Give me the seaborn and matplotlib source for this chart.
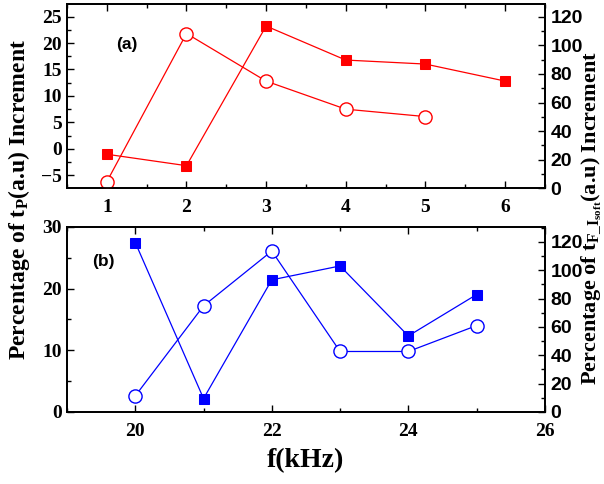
import numpy as np
import pandas as pd
import matplotlib
matplotlib.use("Agg")
from matplotlib import pyplot as plt
from matplotlib.ticker import MultipleLocator
from matplotlib.font_manager import FontProperties
import seaborn as sns

# panel (a)
a_x_circ = [1, 2, 3, 4, 5]
a_tp = [-6.2, 21.8, 12.8, 7.5, 6.1]          # left axis, open circles
a_x_sq = [1, 2, 3, 4, 5, 6]
a_tf = [23.8, 15.8, 113.5, 89.7, 86.9, 75.0]  # right axis, filled squares

# panel (b)
b_f = [20, 21, 22, 23, 24, 25]
b_tp = [2.6, 17.2, 26.1, 9.8, 9.8, 14.0]      # left axis, open circles
b_tf = [119.5, 9.4, 93.2, 103.0, 53.6, 82.8]  # right axis, filled squares

sns.set_style("ticks")
plt.rcParams['font.family'] = ['Liberation Serif', 'DejaVu Serif']
plt.rcParams['font.weight'] = 'bold'
plt.rcParams['text.color'] = 'black'
plt.rcParams['axes.labelcolor'] = 'black'
plt.rcParams['xtick.color'] = 'black'
plt.rcParams['ytick.color'] = 'black'
plt.rcParams['mathtext.fontset'] = 'custom'
plt.rcParams['mathtext.rm'] = 'Liberation Serif:bold'
plt.rcParams['mathtext.bf'] = 'Liberation Serif:bold'
plt.rcParams['mathtext.it'] = 'Liberation Serif:bold'

SERIF = dict(family='Liberation Serif', weight='bold', size=14)
SANS = dict(family='Liberation Sans', weight='bold', size=14)

fig = plt.figure(figsize=(6.04, 4.84), dpi=100)
ax1 = fig.add_axes([0.111, 0.611, 0.791, 0.381])
ax2 = fig.add_axes([0.111, 0.149, 0.791, 0.382])


def style(ax):
    for s in ax.spines.values():
        s.set_linewidth(1.3)
        s.set_color('black')
    ax.tick_params(which='both', direction='in', width=1.0, colors='black')
    ax.tick_params(which='major', length=5)
    ax.tick_params(which='minor', length=3)
    ax.set_xlabel('')
    ax.set_ylabel('')
    if ax.get_legend() is not None:
        ax.get_legend().remove()


def draw(ax, x, y, color, marker):
    df = pd.DataFrame({'x': x, 'y': y})
    if marker == 'o':
        sns.lineplot(data=df, x='x', y='y', ax=ax, color=color, lw=0.9,
                     marker='o', markersize=9.5, markerfacecolor='white',
                     markeredgecolor=color, markeredgewidth=1.0)
    else:
        sns.lineplot(data=df, x='x', y='y', ax=ax, color=color, lw=0.9,
                     marker='s', markersize=6.5, markerfacecolor=color,
                     markeredgecolor=color)


# ---- panel (a)
red = '#ff0000'
ax1r = ax1.twinx()
draw(ax1r, a_x_sq, a_tf, red, 's')
draw(ax1, a_x_circ, a_tp, red, 'o')
ax1.set_zorder(ax1r.get_zorder() + 1)
ax1.patch.set_visible(False)
ax1.set_xlim(0.5, 6.5)
ax1.set_ylim(-7.45, 27.4)
ax1r.set_ylim(0, 129)
ax1.xaxis.set_major_locator(MultipleLocator(1))
ax1.xaxis.set_minor_locator(MultipleLocator(0.5))
ax1.yaxis.set_major_locator(MultipleLocator(5))
ax1.yaxis.set_minor_locator(MultipleLocator(2.5))
ax1r.yaxis.set_major_locator(MultipleLocator(20))
ax1r.yaxis.set_minor_locator(MultipleLocator(10))
ax1.set_xticks([1, 2, 3, 4, 5, 6], ['1', '2', '3', '4', '5', '6'])
for a in (ax1, ax1r):
    style(a)
ax1.tick_params(axis='x', which='both', top=True, bottom=True, pad=8)
ax1.text(0.125, 0.78, '(a)', transform=ax1.transAxes, ha='center', va='center',
         family='Liberation Sans', weight='bold', size=12.5)

# ---- panel (b)
blue = '#0000ff'
ax2r = ax2.twinx()
draw(ax2r, b_f, b_tf, blue, 's')
draw(ax2, b_f, b_tp, blue, 'o')
ax2.set_zorder(ax2r.get_zorder() + 1)
ax2.patch.set_visible(False)
ax2.set_xlim(19, 26)
ax2.set_ylim(0, 30)
ax2r.set_ylim(0, 130.5)
ax2.xaxis.set_major_locator(MultipleLocator(2))
ax2.xaxis.set_minor_locator(MultipleLocator(1))
ax2.yaxis.set_major_locator(MultipleLocator(10))
ax2.yaxis.set_minor_locator(MultipleLocator(5))
ax2r.yaxis.set_major_locator(MultipleLocator(20))
ax2r.yaxis.set_minor_locator(MultipleLocator(10))
for a in (ax2, ax2r):
    style(a)
ax2.tick_params(axis='x', which='both', top=True, bottom=True, pad=8)
ax2.text(0.077, 0.815, '(b)', transform=ax2.transAxes, ha='center', va='center',
         family='Liberation Sans', weight='bold', size=12.5)

for a in (ax1, ax2):
    for lab in a.get_xticklabels() + a.get_yticklabels():
        lab.set_fontproperties(FontProperties(**SERIF))
for a in (ax1r, ax2r):
    a.tick_params(axis='y', pad=4)
    for lab in a.get_yticklabels():
        lab.set_fontproperties(FontProperties(**SANS))

ax2.set_xlabel('f(kHz)', fontsize=20, fontweight='bold', family='Liberation Serif', labelpad=6)

fig.text(0.032, 0.587, r'Percentage of t$_\mathbf{P}$(a.u) Increment', rotation=90,
         ha='center', va='center', fontsize=17, fontweight='bold', family='Liberation Serif')
fig.text(0.979, 0.55, r'Percentage of t$_{\mathbf{F\_I}_{\mathbf{soft}}}$(a.u) Increment',
         rotation=90, ha='center', va='center', fontsize=16, fontweight='bold',
         family='Liberation Serif')

fig.savefig('out.png', dpi=100)
